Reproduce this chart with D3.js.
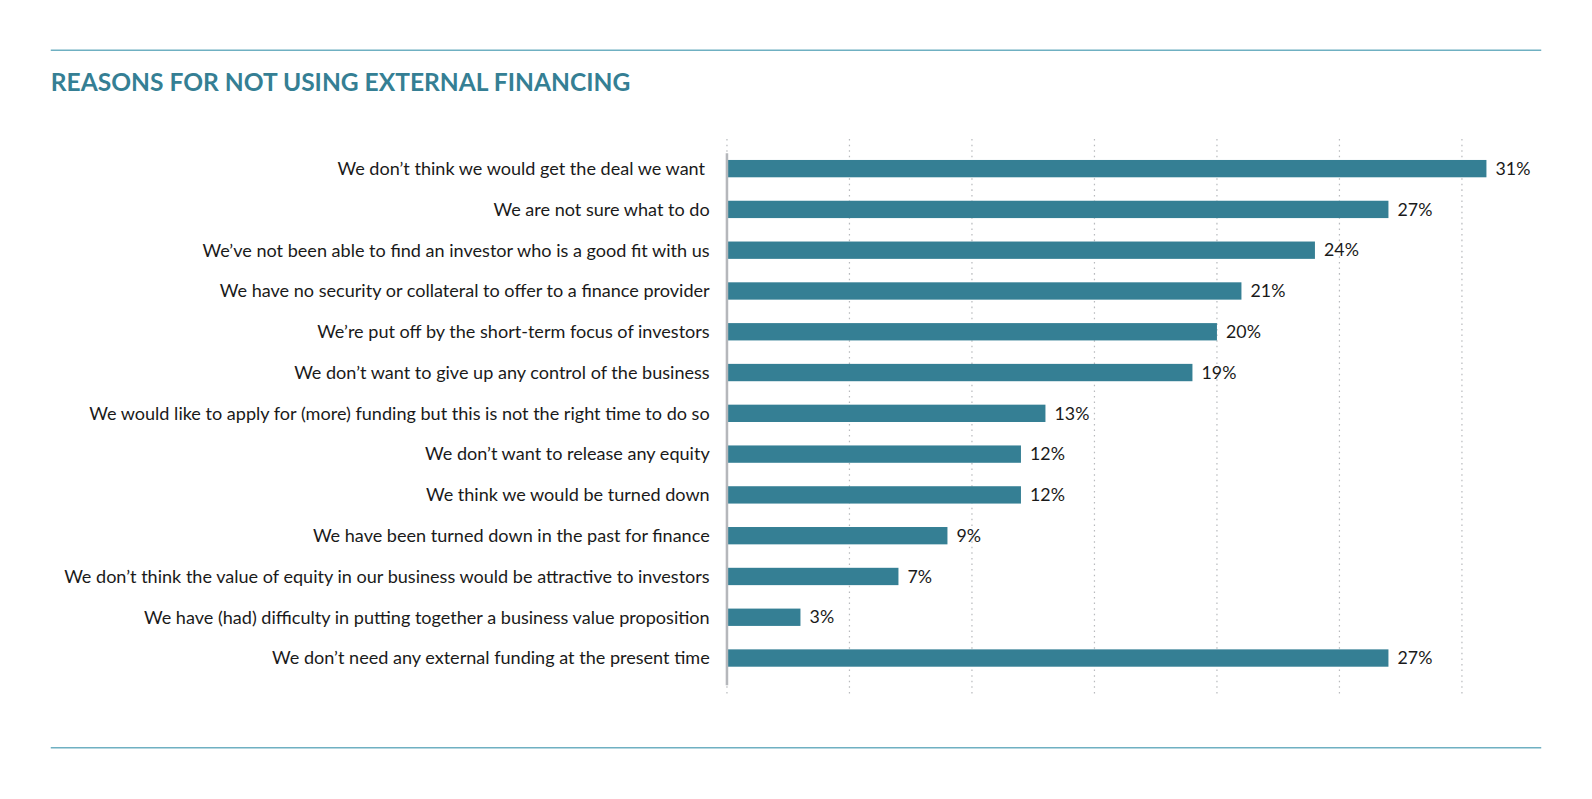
<!DOCTYPE html>
<html>
<head>
<meta charset="utf-8">
<script src="https://cdn.jsdelivr.net/npm/d3@7"></script>
<style>
  html, body { margin: 0; padding: 0; background: #ffffff; }
  svg { display: block; }
</style>
</head>
<body>
<svg id="chart" width="1592" height="799"></svg>
<script>
const title = "REASONS FOR NOT USING EXTERNAL FINANCING";
const categories = [
  "We don\u2019t think we would get the deal we want ",
  "We are not sure what to do",
  "We\u2019ve not been able to find an investor who is a good fit with us",
  "We have no security or collateral to offer to a finance provider",
  "We\u2019re put off by the short-term focus of investors",
  "We don\u2019t want to give up any control of the business",
  "We would like to apply for (more) funding but this is not the right time to do so",
  "We don\u2019t want to release any equity",
  "We think we would be turned down",
  "We have been turned down in the past for finance",
  "We don\u2019t think the value of equity in our business would be attractive to investors",
  "We have (had) difficulty in putting together a business value proposition",
  "We don\u2019t need any external funding at the present time"
];
const values = [31, 27, 24, 21, 20, 19, 13, 12, 12, 9, 7, 3, 27];
const gridTicks = [0, 5, 10, 15, 20, 25, 30];

const svg = d3.select("#chart");
const root = svg.append("g").attr("transform", "scale(" + (1592 / 1568) + ")");
const teal = "#357f94";
const fontFamily = "Lato, 'Open Sans', sans-serif";

// rules
root.append("line").attr("x1", 50).attr("x2", 1518).attr("y1", 49.5).attr("y2", 49.5)
  .attr("stroke", "#6fb0c2").attr("stroke-width", 1.5);
root.append("line").attr("x1", 50).attr("x2", 1518).attr("y1", 736.5).attr("y2", 736.5)
  .attr("stroke", "#6fb0c2").attr("stroke-width", 1.5);

root.append("text").attr("x", 50).attr("y", 90)
  .attr("font-family", fontFamily).attr("font-weight", 700).attr("font-size", 24.2)
  .attr("fill", teal).text(title);

const x = d3.scaleLinear().domain([0, 35]).range([716, 716 + 35 * 24.13]);
const y = d3.scaleBand().domain(categories).range([146, 668.2])
  .paddingInner(0.575).paddingOuter(0.2875);

// grid
root.append("g").selectAll("line").data(gridTicks).join("line")
  .attr("x1", d => x(d)).attr("x2", d => x(d))
  .attr("y1", 137).attr("y2", 686)
  .attr("stroke", "#b8babd").attr("stroke-width", 1.2)
  .attr("stroke-dasharray", "1.5,4");

// bars
root.append("g").selectAll("rect").data(values).join("rect")
  .attr("x", x(0)).attr("y", (d, i) => y(categories[i]))
  .attr("width", d => x(d) - x(0)).attr("height", y.bandwidth())
  .attr("fill", teal);

// axis line
root.append("line").attr("x1", x(0)).attr("x2", x(0)).attr("y1", 151).attr("y2", 675)
  .attr("stroke", "#b5b7bb").attr("stroke-width", 2.5);

// category labels
root.append("g").selectAll("text").data(categories).join("text")
  .attr("x", 699).attr("y", d => y(d) + y.bandwidth() / 2)
  .attr("dy", "0.35em").attr("text-anchor", "end")
  .attr("font-family", fontFamily).attr("font-size", 17.8).attr("fill", "#1a1a1a")
  .attr("xml:space", "preserve")
  .text(d => d);

// value labels
root.append("g").selectAll("text").data(values).join("text")
  .attr("x", d => x(d) + 9).attr("y", (d, i) => y(categories[i]) + y.bandwidth() / 2)
  .attr("dy", "0.35em")
  .attr("font-family", fontFamily).attr("font-size", 17.5).attr("fill", "#1a1a1a")
  .text(d => d + "%");
</script>
</body>
</html>
